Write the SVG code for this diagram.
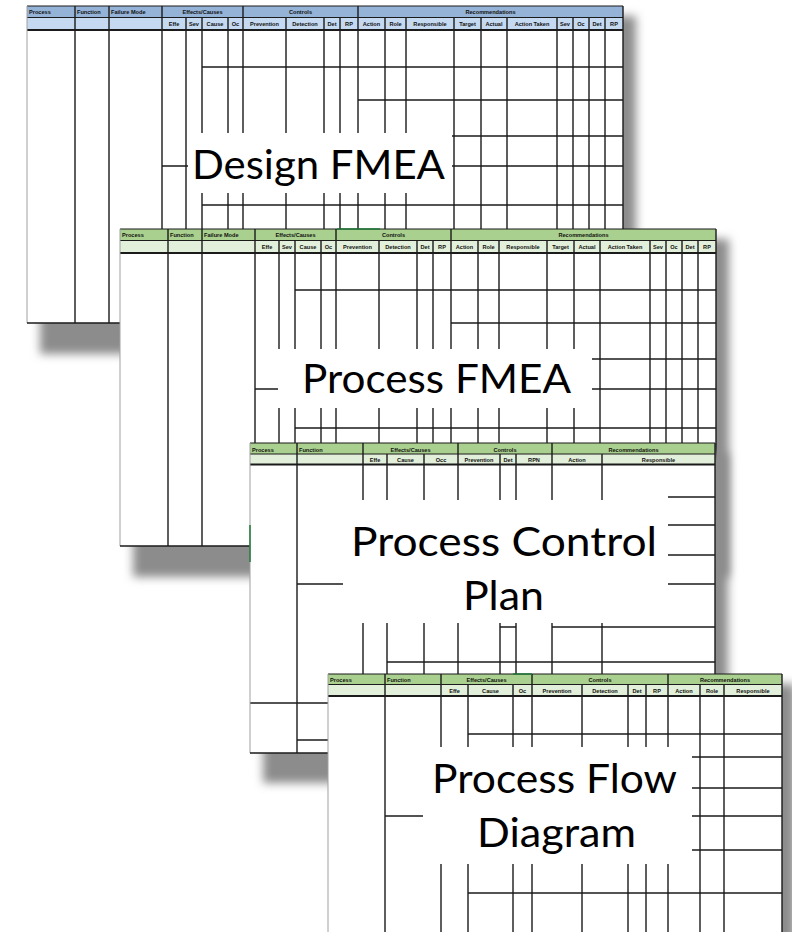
<svg xmlns="http://www.w3.org/2000/svg" xmlns:xlink="http://www.w3.org/1999/xlink" width="792" height="932" viewBox="0 0 792 932">
<style>
.ln{stroke:#1b1b1b;stroke-width:1.4;fill:none}
.sep{stroke:#1b1b1b;stroke-width:1;fill:none}
.sep2{stroke:#1b1b1b;stroke-width:2;fill:none}
.edge{stroke:#a0a0a0;stroke-width:1;fill:none}
.h{font-family:"Liberation Sans",Arial,sans-serif;font-weight:bold;font-size:5.6px;fill:#111}
.m{text-anchor:middle}
.b1{fill:#95b3d7}.b2{fill:#c5d9f1}
.g1{fill:#a9d08e}.g2{fill:#e2efda}
.sh{fill:#8c8c8c;filter:url(#blur)}
.box{fill:#ffffff}
.lab{font-family:Lato,"Noto Sans","Open Sans",sans-serif;font-size:41px;fill:#000}
</style>
<defs>
<filter id="blur" x="-10%" y="-10%" width="120%" height="130%"><feGaussianBlur stdDeviation="5"/></filter>
<g id="fmeaGrid">
<path class="ln" d="M75 6V323M109 6V323M162 6V323M243 6V323M358 6V323M186 17.5V323M202 17.5V323M228 17.5V323M286 17.5V323M324 17.5V323M340 17.5V323M385 17.5V323M406 17.5V323M454 17.5V323M481 17.5V323M507 17.5V323M557 17.5V323M573 17.5V323M589 17.5V323M605 17.5V323"/>
<path class="ln" d="M202 67H623M358 100H623M358 136H623M162 166H623M202 205H623"/>
<path class="sep" d="M27 6H623M27 17.5H623"/>
<path class="sep2" d="M27 30H623"/>
<path class="edge" d="M27 6V323"/>
<path class="ln" d="M623 6V323M27 323H623"/>
<text class="h" x="29" y="14">Process</text>
<text class="h" x="77" y="14">Function</text>
<text class="h" x="111" y="14">Failure Mode</text>
<text class="h m" x="202.5" y="14">Effects/Causes</text>
<text class="h m" x="300.5" y="14">Controls</text>
<text class="h m" x="490.5" y="14">Recommendations</text>
<text class="h m" x="174" y="26">Effe</text>
<text class="h m" x="194" y="26">Sev</text>
<text class="h m" x="215" y="26">Cause</text>
<text class="h m" x="235.5" y="26">Oc</text>
<text class="h m" x="264.5" y="26">Prevention</text>
<text class="h m" x="305" y="26">Detection</text>
<text class="h m" x="332" y="26">Det</text>
<text class="h m" x="349" y="26">RP</text>
<text class="h m" x="371.5" y="26">Action</text>
<text class="h m" x="395.5" y="26">Role</text>
<text class="h m" x="430" y="26">Responsible</text>
<text class="h m" x="467.5" y="26">Target</text>
<text class="h m" x="494" y="26">Actual</text>
<text class="h m" x="532" y="26">Action Taken</text>
<text class="h m" x="565" y="26">Sev</text>
<text class="h m" x="581" y="26">Oc</text>
<text class="h m" x="597" y="26">Det</text>
<text class="h m" x="614" y="26">RP</text>
</g>
</defs>

<g id="design-fmea">
<rect class="sh" x="40" y="16" width="596" height="338"/>
<rect x="27" y="6" width="596" height="317" fill="#fff"/>
<rect class="b1" x="27" y="6" width="596" height="11.5"/>
<rect class="b2" x="27" y="17.5" width="596" height="12.5"/>
<use xlink:href="#fmeaGrid"/>
<rect class="box" x="188" y="133" width="264" height="60"/>
<text class="lab" x="192" y="179" textLength="253" lengthAdjust="spacingAndGlyphs">Design FMEA</text>
</g>

<g id="process-fmea">
<rect class="sh" x="133" y="239" width="596" height="338"/>
<rect x="120" y="229" width="596" height="317" fill="#fff"/>
<rect class="g1" x="120" y="229" width="596" height="11.5"/>
<rect class="g2" x="120" y="240.5" width="596" height="12.5"/>
<use xlink:href="#fmeaGrid" transform="translate(93,223)"/>
<path d="M337 229H380" stroke="#1f7a3a" stroke-width="1.5"/>
<rect class="box" x="278" y="349" width="314" height="59"/>
<text class="lab" x="302" y="393" textLength="269" lengthAdjust="spacingAndGlyphs">Process FMEA</text>
</g>

<g id="process-control-plan">
<rect class="sh" x="263" y="453" width="465" height="330"/>
<rect x="250" y="443" width="465" height="310" fill="#fff"/>
<rect class="g1" x="250" y="443" width="465" height="11"/>
<rect class="g2" x="250" y="454" width="465" height="10.5"/>
<path class="ln" d="M297 443V753M363 443V753M458 443V753M552 443V753M387 454V753M424 454V753M500 454V753M516 454V753M602 454V753"/>
<path class="ln" d="M668 497H715M668 525H715M668 555H715M297 584H715M500 627H516M552 627H715M387 662H715M250 703H715M297 740H715"/>
<path class="sep" d="M250 443H715M250 454H715"/>
<path class="sep2" d="M250 464.5H715"/>
<path class="edge" d="M250 443V753"/>
<path d="M250 525V562" stroke="#1f7a3a" stroke-width="1.5"/>
<path class="ln" d="M715 443V753M250 753H715"/>
<text class="h" x="252" y="451.5">Process</text>
<text class="h" x="299" y="451.5">Function</text>
<text class="h m" x="410.5" y="451.5">Effects/Causes</text>
<text class="h m" x="505" y="451.5">Controls</text>
<text class="h m" x="633.5" y="451.5">Recommendations</text>
<text class="h m" x="375" y="462">Effe</text>
<text class="h m" x="405.5" y="462">Cause</text>
<text class="h m" x="441" y="462">Occ</text>
<text class="h m" x="479" y="462">Prevention</text>
<text class="h m" x="508" y="462">Det</text>
<text class="h m" x="534" y="462">RPN</text>
<text class="h m" x="577" y="462">Action</text>
<text class="h m" x="658.5" y="462">Responsible</text>
<rect class="box" x="343" y="500" width="325" height="123"/>
<text class="lab" x="351" y="556" textLength="306" lengthAdjust="spacingAndGlyphs">Process Control</text>
<text class="lab" x="463" y="610" textLength="81" lengthAdjust="spacingAndGlyphs">Plan</text>
</g>

<g id="process-flow-diagram">
<rect class="sh" x="341" y="684" width="454" height="290"/>
<rect x="328" y="674" width="454" height="270" fill="#fff"/>
<rect class="g1" x="328" y="674" width="454" height="10.5"/>
<rect class="g2" x="328" y="684.5" width="454" height="11.5"/>
<path class="ln" d="M385 674V932M441 674V932M532 674V932M668 674V932M468 684.5V932M513 684.5V932M582 684.5V932M628 684.5V932M646 684.5V932M700 684.5V932M724 684.5V932"/>
<path class="ln" d="M468 734H782M468 757H782M468 788H782M385 816H782M468 850H782M468 893H782"/>
<path class="sep" d="M328 674H782M328 684.5H782"/>
<path class="sep2" d="M328 696H782"/>
<path d="M513 674H532" stroke="#1f7a3a" stroke-width="1.5"/>
<path class="edge" d="M328 674V932"/>
<path class="ln" d="M782 674V932"/>
<text class="h" x="330" y="682">Process</text>
<text class="h" x="387" y="682">Function</text>
<text class="h m" x="486.5" y="682">Effects/Causes</text>
<text class="h m" x="600" y="682">Controls</text>
<text class="h m" x="725" y="682">Recommendations</text>
<text class="h m" x="454.5" y="693">Effe</text>
<text class="h m" x="490.5" y="693">Cause</text>
<text class="h m" x="522.5" y="693">Oc</text>
<text class="h m" x="557" y="693">Prevention</text>
<text class="h m" x="605" y="693">Detection</text>
<text class="h m" x="637" y="693">Det</text>
<text class="h m" x="657" y="693">RP</text>
<text class="h m" x="684" y="693">Action</text>
<text class="h m" x="712" y="693">Role</text>
<text class="h m" x="753" y="693">Responsible</text>
<rect class="box" x="423" y="747" width="269" height="117"/>
<text class="lab" x="432" y="793" textLength="245" lengthAdjust="spacingAndGlyphs">Process Flow</text>
<text class="lab" x="477" y="847" textLength="159" lengthAdjust="spacingAndGlyphs">Diagram</text>
</g>
</svg>
